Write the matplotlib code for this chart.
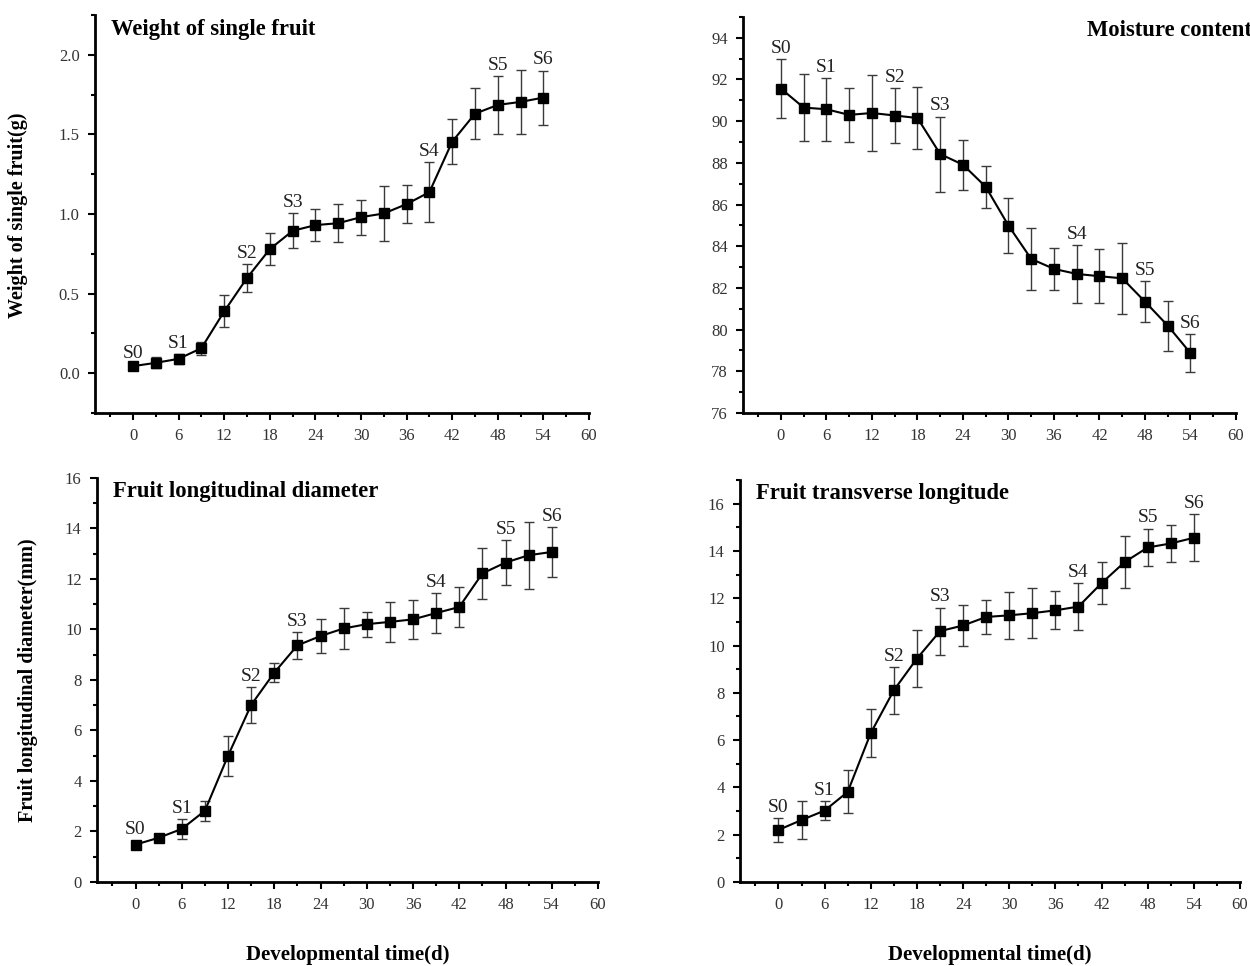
import matplotlib
matplotlib.use("Agg")
import matplotlib.pyplot as plt
from matplotlib.ticker import MultipleLocator, FormatStrFormatter

plt.rcParams['font.family'] = ['Liberation Serif', 'DejaVu Serif']

# sampling days
days = [0, 3, 6, 9, 12, 15, 18, 21, 24, 27, 30, 33, 36, 39, 42, 45, 48, 51, 54]

# stage labels and the day they sit on
stage_names = ["S0", "S1", "S2", "S3", "S4", "S5", "S6"]
stage_days = [0, 6, 15, 21, 39, 48, 54]

# weight of single fruit (g)
weight = [0.044, 0.065, 0.09, 0.157, 0.388, 0.598, 0.779, 0.894, 0.93, 0.942,
          0.98, 1.003, 1.062, 1.137, 1.454, 1.63, 1.685, 1.704, 1.731]
weight_err = [0.015, 0.035, 0.03, 0.04, 0.1, 0.09, 0.1, 0.11, 0.1, 0.12,
              0.11, 0.17, 0.12, 0.19, 0.14, 0.16, 0.18, 0.2, 0.17]

# moisture content (%)
moisture = [91.56, 90.65, 90.57, 90.30, 90.39, 90.27, 90.15, 88.42, 87.91, 86.85,
            84.99, 83.39, 82.91, 82.67, 82.56, 82.46, 81.34, 80.19, 78.87]
moisture_err = [1.4, 1.6, 1.5, 1.3, 1.8, 1.3, 1.5, 1.8, 1.2, 1.0,
                1.3, 1.5, 1.0, 1.4, 1.3, 1.7, 1.0, 1.2, 0.9]

# fruit longitudinal diameter (mm)
longit = [1.48, 1.75, 2.10, 2.82, 5.0, 7.01, 8.29, 9.37, 9.74, 10.04,
          10.21, 10.30, 10.40, 10.65, 10.89, 12.22, 12.65, 12.94, 13.07]
longit_err = [0.16, 0.15, 0.4, 0.39, 0.8, 0.7, 0.38, 0.53, 0.66, 0.8,
              0.49, 0.8, 0.77, 0.8, 0.79, 1.0, 0.9, 1.32, 1.0]

# fruit transverse diameter (mm)
transv = [2.20, 2.62, 3.02, 3.81, 6.30, 8.11, 9.45, 10.61, 10.85, 11.21,
          11.28, 11.37, 11.49, 11.65, 12.64, 13.53, 14.15, 14.32, 14.56]
transv_err = [0.5, 0.79, 0.39, 0.91, 1.0, 0.99, 1.2, 1.0, 0.86, 0.7,
              1.0, 1.06, 0.8, 1.0, 0.9, 1.1, 0.8, 0.8, 1.0]


def draw_panel(ax, y, err, ylim, ymajor, yminor, yfmt):
    ax.errorbar(days, y, yerr=err, color='black', ecolor='#3a3a3a',
                elinewidth=1.0, capsize=3.5, capthick=1.0,
                marker='s', markersize=7, linewidth=1.5)
    for name, d in zip(stage_names, stage_days):
        i = days.index(d)
        ax.annotate(name, (d, y[i] + err[i]), xytext=(0, 1.5),
                    textcoords='offset points', ha='center', va='bottom',
                    fontsize=14, color='#222222')
    ax.set_xlim(-5, 60)
    ax.set_ylim(*ylim)
    ax.xaxis.set_major_locator(MultipleLocator(6))
    ax.xaxis.set_minor_locator(MultipleLocator(3))
    ax.yaxis.set_major_locator(MultipleLocator(ymajor))
    ax.yaxis.set_minor_locator(MultipleLocator(yminor))
    ax.yaxis.set_major_formatter(FormatStrFormatter(yfmt))
    for s in ['top', 'right']:
        ax.spines[s].set_visible(False)
    for s in ['left', 'bottom']:
        ax.spines[s].set_linewidth(2)
    ax.tick_params(which='major', direction='out', length=5, width=1.5,
                   labelsize=12, labelcolor='#333333', pad=6)
    ax.tick_params(which='minor', direction='out', length=3, width=1.5)


fig = plt.figure(figsize=(12.5, 9.66), dpi=100)

ax1 = fig.add_axes([0.076, 0.5725, 0.3952, 0.412])
ax2 = fig.add_axes([0.5944, 0.5725, 0.3944, 0.410])
ax3 = fig.add_axes([0.0776, 0.087, 0.4008, 0.4182])
ax4 = fig.add_axes([0.592, 0.087, 0.400, 0.416])

draw_panel(ax1, weight, weight_err, (-0.25, 2.25), 0.5, 0.25, '%.1f')
draw_panel(ax2, moisture, moisture_err, (76, 95), 2, 1, '%d')
draw_panel(ax3, longit, longit_err, (0, 16), 2, 1, '%d')
draw_panel(ax4, transv, transv_err, (0, 17), 2, 1, '%d')

# panel titles
fig.text(111 / 1250, 1 - 30 / 966, "Weight of single fruit", fontsize=16.3,
         fontweight='bold', va='center')
fig.text(1087 / 1250, 1 - 31 / 966, "Moisture content", fontsize=16.3,
         fontweight='bold', va='center')
fig.text(113 / 1250, 1 - 492 / 966, "Fruit longitudinal diameter", fontsize=16.3,
         fontweight='bold', va='center')
fig.text(756 / 1250, 1 - 494 / 966, "Fruit transverse longitude", fontsize=16.3,
         fontweight='bold', va='center')

# axis labels
fig.text(18 / 1250, 1 - 215 / 966, "Weight of single fruit(g)", fontsize=14.5,
         fontweight='bold', rotation=90, ha='center', va='center')
fig.text(28 / 1250, 1 - 680 / 966, "Fruit longitudinal diameter(mm)", fontsize=14.5,
         fontweight='bold', rotation=90, ha='center', va='center')
fig.text(348 / 1250, 1 - 955 / 966, "Developmental time(d)", fontsize=15,
         fontweight='bold', ha='center', va='center')
fig.text(990 / 1250, 1 - 955 / 966, "Developmental time(d)", fontsize=15,
         fontweight='bold', ha='center', va='center')

fig.savefig("out.png", dpi=100)
